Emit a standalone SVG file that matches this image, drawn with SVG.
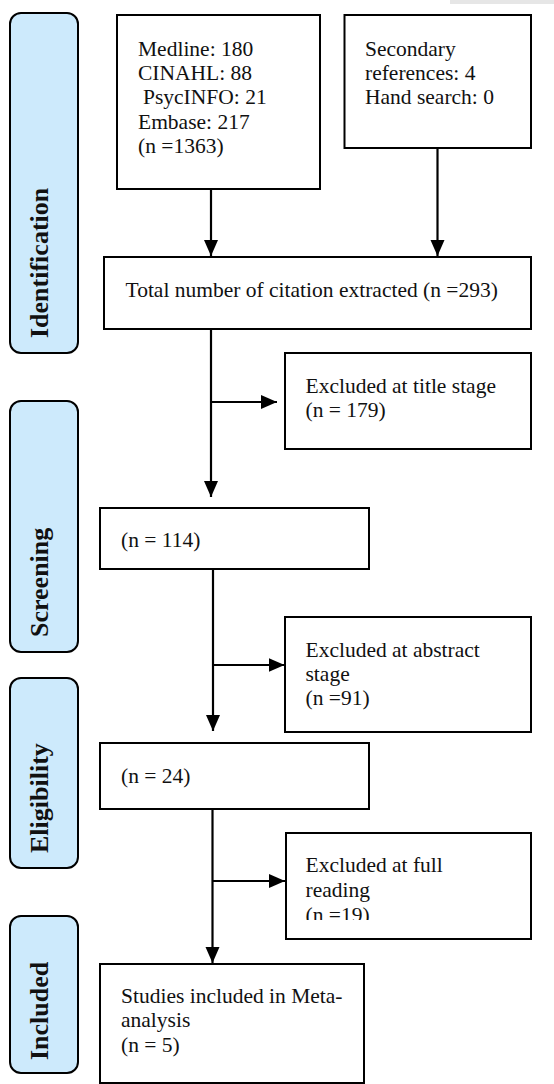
<svg xmlns="http://www.w3.org/2000/svg" width="554" height="1084" viewBox="0 0 554 1084">
<style>
.box{fill:#fff;stroke:#000;stroke-width:2}
.stage{fill:#cdeafc;stroke:#000;stroke-width:2}
.t{font-family:"Liberation Serif","Times New Roman",serif;font-size:21.5px;fill:#111}
.lbl{font-family:"Liberation Serif","Times New Roman",serif;font-size:26px;font-weight:bold;fill:#111}
.c{fill:none;stroke:#000;stroke-width:2.2}
</style>
<defs>
<marker id="ah" markerUnits="userSpaceOnUse" markerWidth="16" markerHeight="16" viewBox="0 0 16 16" refX="16" refY="8" orient="auto">
<path d="M0,1 L16,8 L0,15 Z" fill="#000"/>
</marker>
<clipPath id="clip19"><rect x="286" y="833" width="245" height="87"/></clipPath>
</defs>
<rect x="450" y="0" width="104" height="4" fill="#e6e6e6"/>

<g id="stage-identification">
<rect class="stage" x="10" y="13" width="68" height="340" rx="11"/>
<text class="lbl" transform="translate(48,338) rotate(-90)">Identification</text>
</g>
<g id="stage-screening">
<rect class="stage" x="10" y="401" width="68" height="251" rx="11"/>
<text class="lbl" transform="translate(48,637) rotate(-90)">Screening</text>
</g>
<g id="stage-eligibility">
<rect class="stage" x="10" y="678" width="68" height="190" rx="11"/>
<text class="lbl" transform="translate(48,853) rotate(-90)">Eligibility</text>
</g>
<g id="stage-included">
<rect class="stage" x="10" y="916" width="68" height="157" rx="11"/>
<text class="lbl" transform="translate(48,1060) rotate(-90)">Included</text>
</g>

<g id="databases">
<rect class="box" x="117" y="15" width="203" height="174"/>
<text class="t" x="138" y="56">Medline: 180</text>
<text class="t" x="138" y="80">CINAHL: 88</text>
<text class="t" x="143" y="104">PsycINFO: 21</text>
<text class="t" x="138" y="129">Embase: 217</text>
<text class="t" x="138" y="153">(n =1363)</text>
</g>
<g id="other-sources">
<rect class="box" x="344.5" y="15" width="186.5" height="133"/>
<text class="t" x="365" y="56">Secondary</text>
<text class="t" x="365" y="80">references: 4</text>
<text class="t" x="365" y="104">Hand search: 0</text>
</g>
<g id="total">
<rect class="box" x="104" y="257" width="427" height="72"/>
<text class="t" x="125.5" y="297">Total number of citation extracted (n =293)</text>
</g>
<g id="excl-title">
<rect class="box" x="285" y="353" width="246" height="96"/>
<text class="t" x="305.5" y="393">Excluded at title stage</text>
<text class="t" x="305.5" y="417">(n = 179)</text>
</g>
<g id="screened">
<rect class="box" x="100" y="508" width="269" height="61"/>
<text class="t" x="121" y="547">(n = 114)</text>
</g>
<g id="excl-abstract">
<rect class="box" x="285" y="617" width="246" height="115"/>
<text class="t" x="305.5" y="657">Excluded at abstract</text>
<text class="t" x="305.5" y="681">stage</text>
<text class="t" x="305.5" y="705">(n =91)</text>
</g>
<g id="eligible">
<rect class="box" x="100" y="743" width="269" height="66"/>
<text class="t" x="121" y="783">(n = 24)</text>
</g>
<g id="excl-full">
<rect class="box" x="286" y="833" width="245" height="106"/>
<text class="t" x="305.5" y="872">Excluded at full</text>
<text class="t" x="305.5" y="897">reading</text>
<text class="t" x="305.5" y="922" clip-path="url(#clip19)">(n =19)</text>
</g>
<g id="included">
<rect class="box" x="100" y="964" width="264" height="119"/>
<text class="t" x="121" y="1003">Studies included in Meta-</text>
<text class="t" x="121" y="1027">analysis</text>
<text class="t" x="121" y="1052">(n = 5)</text>
</g>

<g id="connectors">
<line class="c" x1="211" y1="189" x2="211" y2="256" marker-end="url(#ah)"/>
<line class="c" x1="437.5" y1="148" x2="437.5" y2="256" marker-end="url(#ah)"/>
<line class="c" x1="211" y1="329" x2="211" y2="497" marker-end="url(#ah)"/>
<line class="c" x1="211" y1="402" x2="277" y2="402" marker-end="url(#ah)"/>
<line class="c" x1="213" y1="569" x2="213" y2="731" marker-end="url(#ah)"/>
<line class="c" x1="213" y1="665" x2="284.5" y2="665" marker-end="url(#ah)"/>
<line class="c" x1="212.5" y1="809" x2="212.5" y2="963" marker-end="url(#ah)"/>
<line class="c" x1="212.5" y1="881" x2="285" y2="881" marker-end="url(#ah)"/>
</g>
</svg>
